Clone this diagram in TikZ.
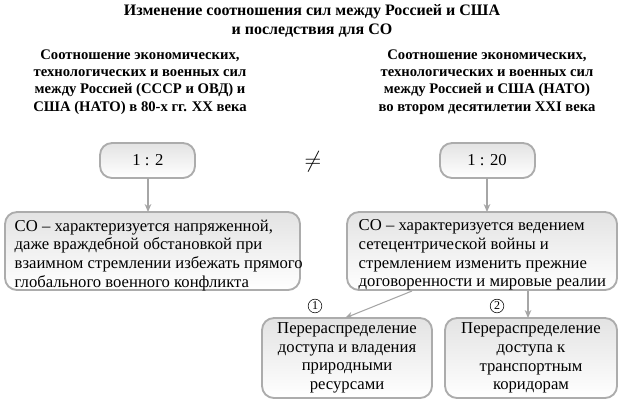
\documentclass[tikz,border=0pt]{standalone}
\usepackage{fontspec}
\setmainfont{Liberation Serif}
\usetikzlibrary{arrows.meta}
\begin{document}
\begin{tikzpicture}[x=0.75pt,y=-0.75pt,
 box/.style={draw=gray!65,line width=1.4pt,rounded corners=9pt,top color=gray!22,bottom color=white,inner sep=0pt},
 arr/.style={draw=gray!70,line width=0.8pt,-{Stealth[length=6pt,width=5pt]}},
 hd/.style={font=\bfseries\fontsize{11pt}{13pt}\selectfont,align=center},
 tx/.style={font=\fontsize{12.5pt}{14pt}\selectfont}]
\useasboundingbox (0,0) rectangle (624,404);
\node[hd,font=\bfseries\fontsize{12pt}{14pt}\selectfont] (t) at (312,21) {Изменение соотношения сил между Россией и США\\и последствия для СО};
\node[hd] (hl) at (140,82) {Соотношение экономических,\\технологических и военных сил\\между Россией (СССР и ОВД) и\\США (НАТО) в 80-х гг. XX века};
\node[hd] (hr) at (487,82) {Соотношение экономических,\\технологических и военных сил\\между Россией и США (НАТО)\\во втором десятилетии XXI века};
\draw[box] (100,143) rectangle (195,178); \node[tx] (a) at (148,160) {1 : 2};
\draw[box] (440,143) rectangle (535,178); \node[tx] (b) at (487,160) {1 : 20};
\node[font=\fontsize{18pt}{18pt}\selectfont] (ne) at (313,162) {$\neq$};
\draw[box] (5,212) rectangle (300,290);
\node[tx,align=left,anchor=north west] (l) at (10,215) {СО – характеризуется напряженной,\\даже враждебной обстановкой при\\взаимном стремлении избежать прямого\\глобального военного конфликта};
\draw[box] (347,212) rectangle (617,290);
\node[tx,align=left,anchor=north west] (r) at (354,215) {СО – характеризуется ведением\\сетецентрической войны и\\стремлением изменить прежние\\договоренности и мировые реалии};
\draw[box] (262,318) rectangle (432,398);
\node[tx,align=center] (p1) at (347,358) {Перераспределение\\доступа и владения\\природными\\ресурсами};
\draw[box] (445,318) rectangle (617,398);
\node[tx,align=center] (p2) at (531,358) {Перераспределение\\доступа к\\транспортным\\коридорам};
\coordinate (a1) at (148,178); \coordinate (a2) at (148,212);
\coordinate (b1) at (487,178); \coordinate (b2) at (487,212);
\coordinate (c1) at (412,291); \coordinate (c2) at (345,318);
\coordinate (d1) at (528,291); \coordinate (d2) at (528,318);
\draw[arr] (a1)--(a2); \draw[arr] (b1)--(b2);
\draw[arr] (c1)--(c2); \draw[arr] (d1)--(d2);
\node[draw,circle,inner sep=1pt,font=\fontsize{9pt}{9pt}\selectfont] (n1) at (315,306) {1};
\node[draw,circle,inner sep=1pt,font=\fontsize{9pt}{9pt}\selectfont] (n2) at (497,306) {2};
\end{tikzpicture}
\end{document}
